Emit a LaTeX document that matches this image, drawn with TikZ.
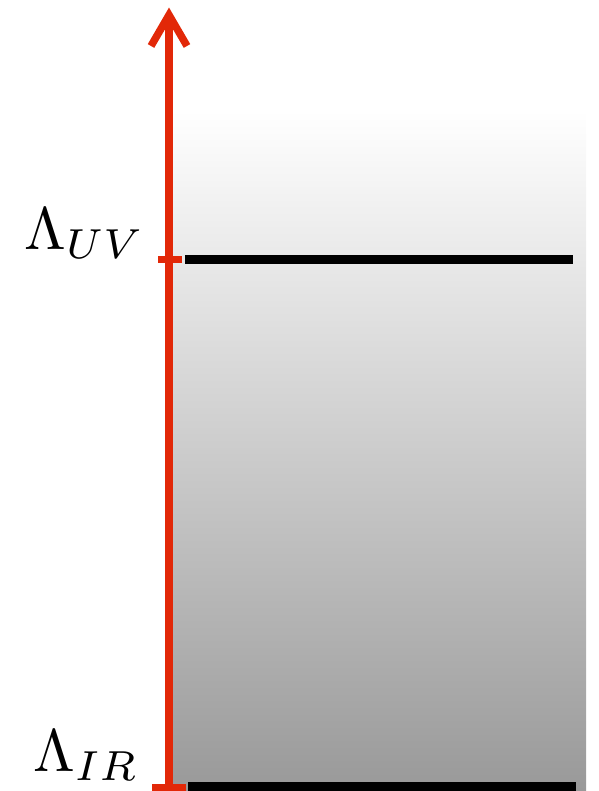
\documentclass[tikz,border=0pt]{standalone}
\usetikzlibrary{arrows.meta}
\definecolor{axisred}{RGB}{226,40,8}
\tikzset{
  scalelabel/.style={font=\fontsize{10}{12}\selectfont, scale=6.0, transform shape, inner sep=0pt},
  level/.style={line width=9pt, black},
  axis/.style={line width=7.5pt, axisred}
}
\begin{document}
\begin{tikzpicture}[x=1pt,y=-1pt]
\useasboundingbox (0,0) rectangle (598,791);
% gradient band
\shade[top color=white, bottom color=black!40] (172,110) rectangle (586,791);
% levels
\draw[level] (185,259.5) -- (573,259.5);
\draw[level] (188,786.5) -- (576,786.5);
% axis
\coordinate (bottom) at (169,791);
\coordinate (top) at (169,14);
\draw[axis] (bottom) -- (top);
\draw[axis, line join=miter] (151,46) -- (169,15) -- (187,46);
% ticks
\draw[axis] (158,259.5) -- (182,259.5);
\draw[axis] (152,788) -- (186,788);
% labels
\node[scalelabel, anchor=base east] (uv) at (146,250) {$\Lambda_{UV}$};
\node[scalelabel, anchor=base east] (ir) at (140,771) {$\Lambda_{IR}$};
\end{tikzpicture}
\end{document}
